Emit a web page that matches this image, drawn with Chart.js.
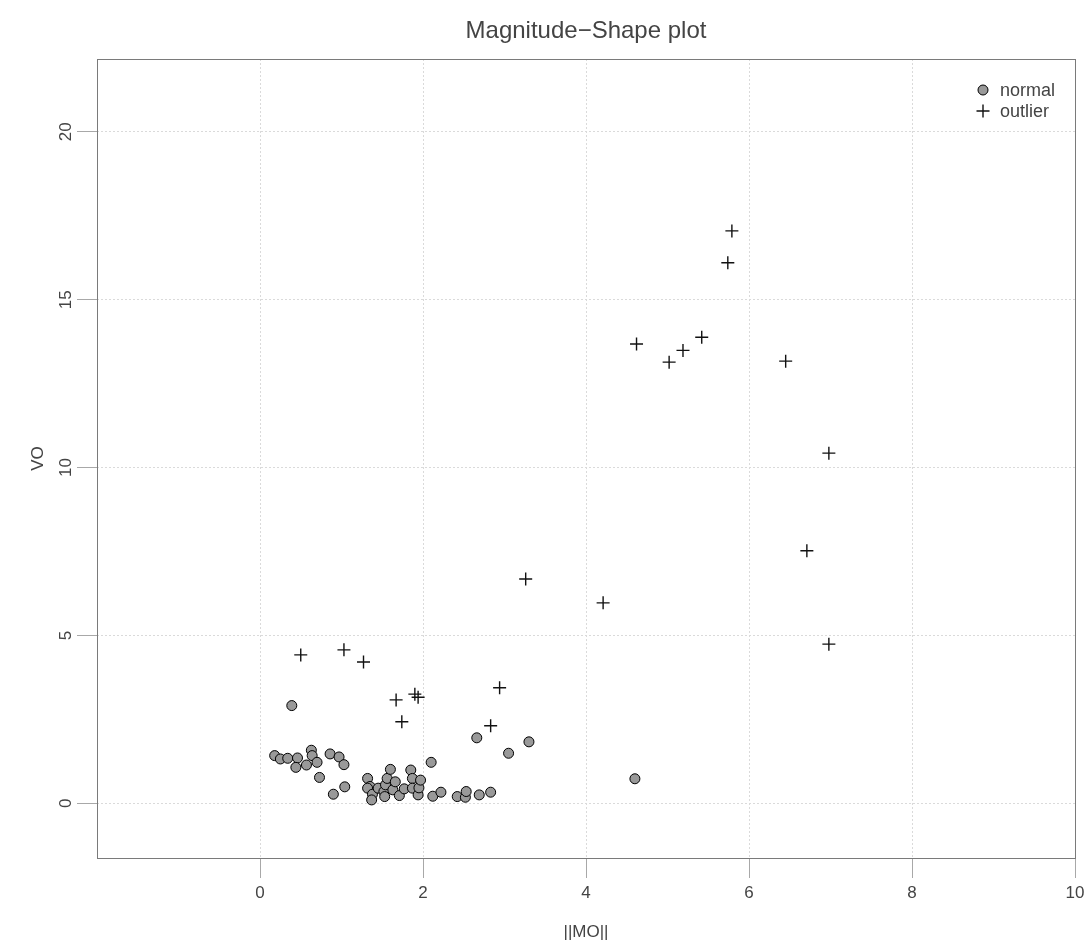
<!DOCTYPE html>
<html>
<head>
<meta charset="utf-8">
<script src="https://cdn.jsdelivr.net/npm/chart.js@4.4.1/dist/chart.umd.min.js"></script>
<style>
  html, body { margin: 0; padding: 0; background: #ffffff; }
  #wrap { width: 1085px; height: 951px; }
</style>
</head>
<body>
<div id="wrap"><canvas id="ms"></canvas></div>
<script>
// Magnitude (||MO||) and variation (VO) outlyingness of each curve
const normalMO = [0.18, 0.25, 0.34, 0.46, 0.44, 0.63, 0.64, 0.57, 0.70, 0.73, 0.86, 0.97, 1.03, 0.90, 1.04, 0.39,
  1.32, 1.35, 1.32, 1.38, 1.37, 1.45, 1.52, 1.53, 1.54, 1.56, 1.60, 1.63, 1.66, 1.71, 1.77, 1.85, 1.87, 1.87,
  1.94, 1.95, 1.97, 2.10, 2.12, 2.22, 2.42, 2.52, 2.53, 2.69, 2.83, 2.66, 3.05, 3.30, 4.60];
const normalVO = [1.42, 1.32, 1.34, 1.35, 1.07, 1.58, 1.42, 1.14, 1.22, 0.77, 1.47, 1.38, 1.15, 0.27, 0.49, 2.91,
  0.74, 0.50, 0.45, 0.27, 0.10, 0.45, 0.35, 0.20, 0.55, 0.74, 1.01, 0.40, 0.64, 0.23, 0.43, 0.99, 0.74, 0.45,
  0.25, 0.46, 0.69, 1.22, 0.21, 0.33, 0.20, 0.18, 0.35, 0.25, 0.33, 1.95, 1.49, 1.83, 0.73];

const outlierMO = [0.50, 1.03, 1.27, 1.67, 1.74, 1.90, 1.94, 2.94, 2.83, 3.26, 4.21, 5.79, 5.74, 4.62, 5.02, 5.19,
  5.42, 6.45, 6.98, 6.71, 6.98];
const outlierVO = [4.42, 4.57, 4.21, 3.08, 2.43, 3.25, 3.16, 3.44, 2.31, 6.68, 5.97, 17.05, 16.10, 13.68, 13.14, 13.49,
  13.88, 13.17, 10.43, 7.52, 4.74];

const xTicks = [0, 2, 4, 6, 8, 10];
const yTicks = [0, 5, 10, 15, 20];
const xRange = [-2, 10];
const yRange = [-1.63, 22.17];

const groupLabels = ['normal', 'outlier'];
const plotTitle = 'Magnitude\u2212Shape plot';
const xTitle = '||MO||';
const yTitle = 'VO';

const FONT = '"Liberation Sans", Arial, Helvetica, sans-serif';
const TEXT = '#444444';

function pairs(xs, ys) { return xs.map((x, i) => ({ x: x, y: ys[i] })); }

// Frame, tick labels, titles and the legend
const decorations = {
  id: 'decorations',
  afterDraw(chart) {
    const ctx = chart.ctx;
    const a = chart.chartArea;
    const xs = chart.scales.x;
    const ys = chart.scales.y;
    ctx.save();
    // frame around the plotting region
    ctx.strokeStyle = '#7a7a7a';
    ctx.lineWidth = 1;
    ctx.strokeRect(Math.round(a.left) + 0.5, Math.round(a.top) + 0.5,
      Math.round(a.right - a.left), Math.round(a.bottom - a.top));

    ctx.fillStyle = TEXT;
    ctx.font = '17px ' + FONT;
    ctx.textAlign = 'center';
    ctx.textBaseline = 'middle';
    // x tick labels
    xTicks.forEach(v => ctx.fillText(String(v), xs.getPixelForValue(v), 893));
    // y tick labels, reading upward
    yTicks.forEach(v => {
      ctx.save();
      ctx.translate(66, ys.getPixelForValue(v));
      ctx.rotate(-Math.PI / 2);
      ctx.fillText(String(v), 0, 0);
      ctx.restore();
    });
    // axis titles
    ctx.save();
    ctx.translate(38, (a.top + a.bottom) / 2);
    ctx.rotate(-Math.PI / 2);
    ctx.fillText(yTitle, 0, 0);
    ctx.restore();
    ctx.fillText(xTitle, (a.left + a.right) / 2, 932);
    // main title
    ctx.font = '24px ' + FONT;
    ctx.fillText(plotTitle, (a.left + a.right) / 2, 31);

    // legend
    ctx.font = '18px ' + FONT;
    ctx.textAlign = 'left';
    const lx = 983, ly = [90, 111];
    ctx.beginPath();
    ctx.arc(lx, ly[0], 5, 0, Math.PI * 2);
    ctx.fillStyle = '#999999';
    ctx.fill();
    ctx.strokeStyle = '#000000';
    ctx.lineWidth = 1;
    ctx.stroke();
    ctx.beginPath();
    ctx.moveTo(lx - 6.5, ly[1]); ctx.lineTo(lx + 6.5, ly[1]);
    ctx.moveTo(lx, ly[1] - 6.5); ctx.lineTo(lx, ly[1] + 6.5);
    ctx.strokeStyle = '#111111';
    ctx.lineWidth = 1.4;
    ctx.stroke();
    ctx.fillStyle = TEXT;
    ctx.fillText(groupLabels[0], 1000, ly[0] + 1);
    ctx.fillText(groupLabels[1], 1000, ly[1] + 1);
    ctx.restore();
  }
};

const gridStyle = {
  color: '#dadada',
  lineWidth: 1,
  drawTicks: true,
  tickLength: 20,
  tickColor: '#a8a8a8',
  tickWidth: 1,
  tickBorderDash: []
};

new Chart(document.getElementById('ms'), {
  type: 'scatter',
  data: {
    datasets: [
      {
        label: groupLabels[0],
        data: pairs(normalMO, normalVO),
        pointStyle: 'circle',
        pointRadius: 5,
        pointHoverRadius: 5,
        backgroundColor: '#999999',
        borderColor: '#000000',
        borderWidth: 1,
        order: 1
      },
      {
        label: groupLabels[1],
        data: pairs(outlierMO, outlierVO),
        pointStyle: 'cross',
        pointRadius: 6.5,
        pointHoverRadius: 6.5,
        backgroundColor: '#111111',
        borderColor: '#111111',
        borderWidth: 1.4,
        order: 0
      }
    ]
  },
  options: {
    responsive: true,
    maintainAspectRatio: false,
    animation: false,
    events: [],
    layout: { padding: { top: 59, right: 10, left: 0, bottom: 0 } },
    plugins: { legend: { display: false }, title: { display: false }, tooltip: { enabled: false } },
    scales: {
      x: {
        type: 'linear',
        min: xRange[0],
        max: xRange[1],
        afterBuildTicks: s => { s.ticks = xTicks.map(v => ({ value: v })); },
        afterFit: s => { s.height = 93; },
        grid: gridStyle,
        border: { display: false, dash: [2, 2] },
        ticks: { display: false }
      },
      y: {
        type: 'linear',
        min: yRange[0],
        max: yRange[1],
        afterBuildTicks: s => { s.ticks = yTicks.map(v => ({ value: v })); },
        afterFit: s => { s.width = 97; },
        grid: gridStyle,
        border: { display: false, dash: [2, 2] },
        ticks: { display: false }
      }
    }
  },
  plugins: [decorations]
});
</script>
</body>
</html>
